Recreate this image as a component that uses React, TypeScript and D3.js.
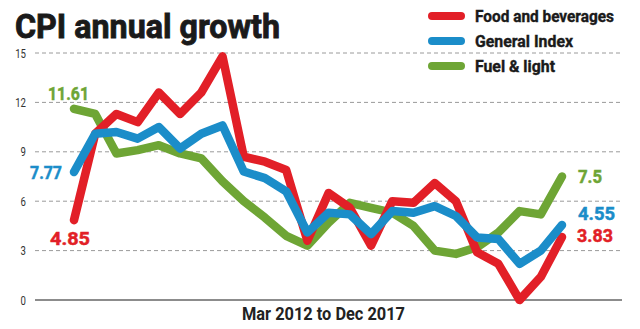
import React from "react";
import * as d3 from "d3";

const quarters = [
  "Mar 2012", "Jun 2012", "Sep 2012", "Dec 2012",
  "Mar 2013", "Jun 2013", "Sep 2013", "Dec 2013",
  "Mar 2014", "Jun 2014", "Sep 2014", "Dec 2014",
  "Mar 2015", "Jun 2015", "Sep 2015", "Dec 2015",
  "Mar 2016", "Jun 2016", "Sep 2016", "Dec 2016",
  "Mar 2017", "Jun 2017", "Sep 2017", "Dec 2017",
];

const foodValues = [
  4.85, 10.1, 11.3, 10.8, 12.6, 11.3, 12.6, 14.8, 8.7, 8.4, 7.9, 3.6,
  6.5, 5.6, 3.3, 6.0, 5.9, 7.1, 6.0, 2.9, 2.2, 0.0, 1.4, 3.83,
];
const generalValues = [
  7.77, 10.1, 10.2, 9.8, 10.5, 9.2, 10.1, 10.6, 7.8, 7.4, 6.6, 4.1,
  5.3, 5.2, 4.0, 5.4, 5.3, 5.7, 5.1, 3.8, 3.7, 2.2, 3.0, 4.55,
];
const fuelValues = [
  11.61, 11.3, 8.9, 9.1, 9.4, 8.9, 8.6, 7.2, 6.0, 5.0, 3.9, 3.3,
  4.7, 5.9, 5.6, 5.3, 4.5, 3.0, 2.8, 3.2, 4.1, 5.4, 5.2, 7.5,
];

const yTicks = [0, 3, 6, 9, 12, 15];
const seriesNames = ["Food and beverages", "General Index", "Fuel & light"];
const seriesColors = ["#e21f27", "#1b8dc9", "#6ea535"];
const titleText = "CPI annual growth";
const xAxisLabel = "Mar 2012 to Dec 2017";

const FONT = "Roboto, 'Open Sans', sans-serif";

export default function App() {
  const x = d3.scaleLinear().domain([0, quarters.length - 1]).range([74, 562]);
  const y = d3.scaleLinear().domain([0, 15]).range([300, 53]);
  const line = d3
    .line<number>()
    .x((_, i) => x(i))
    .y((d) => y(d));

  const series = [foodValues, generalValues, fuelValues];
  const drawOrder = [2, 0, 1];
  const legendWidths = [139, 98, 80];
  const last = quarters.length - 1;

  const valueLabel = (
    key: string,
    px: number,
    py: number,
    anchor: string,
    color: string,
    len: number,
    txt: number
  ) => (
    <text
      key={key}
      x={px}
      y={py}
      textAnchor={anchor}
      fontSize={18.5}
      fontWeight={700}
      fill={color}
      stroke={color}
      strokeWidth={0.5}
      textLength={len}
      lengthAdjust="spacingAndGlyphs"
    >
      {txt}
    </text>
  );

  return (
    <svg
      width={640}
      height={329}
      style={{ position: "absolute", left: 0, top: 0, background: "#fff" }}
      fontFamily={FONT}
    >
      <rect width={640} height={329} fill="#fff" />
      {/* gridlines */}
      {yTicks.map((t) =>
        t === 0 ? null : (
          <line
            key={"g" + t}
            x1={35}
            x2={622}
            y1={y(t)}
            y2={y(t)}
            stroke="#9a9a9a"
            strokeWidth={1}
            strokeDasharray="4 3"
          />
        )
      )}
      <line x1={35} x2={622} y1={y(0)} y2={y(0)} stroke="#666" strokeWidth={1.6} />
      {yTicks.map((t) => (
        <text
          key={"t" + t}
          x={26}
          y={y(t) + 4.5}
          textAnchor="end"
          fontSize={13}
          fill="#333"
          textLength={String(t).length * 5.4}
          lengthAdjust="spacingAndGlyphs"
        >
          {t}
        </text>
      ))}

      {/* title */}
      <text
        x={15}
        y={38}
        fontSize={34}
        fontWeight={700}
        fill="#1a1a1a"
        stroke="#1a1a1a"
        strokeWidth={0.9}
        textLength={265}
        lengthAdjust="spacingAndGlyphs"
      >
        {titleText}
      </text>

      {/* legend */}
      {seriesNames.map((name, i) => (
        <g key={name}>
          <line
            x1={432}
            x2={461}
            y1={16 + i * 25}
            y2={16 + i * 25}
            stroke={seriesColors[i]}
            strokeWidth={8}
            strokeLinecap="round"
          />
          <text
            x={475}
            y={22 + i * 25}
            fontSize={17}
            fontWeight={700}
            fill="#1a1a1a"
            stroke="#1a1a1a"
            strokeWidth={0.4}
            textLength={legendWidths[i]}
            lengthAdjust="spacingAndGlyphs"
          >
            {name}
          </text>
        </g>
      ))}

      {/* lines */}
      {drawOrder.map((si) => (
        <path
          key={"s" + si}
          d={line(series[si]) || ""}
          fill="none"
          stroke={seriesColors[si]}
          strokeWidth={8.5}
          strokeLinejoin="round"
          strokeLinecap="round"
        />
      ))}

      {/* start labels */}
      {valueLabel("l0", x(0) - 5.5, y(fuelValues[0]) - 9, "middle", seriesColors[2], 41, fuelValues[0])}
      {valueLabel("l1", x(0) - 12, y(generalValues[0]) + 7, "end", seriesColors[1], 32, generalValues[0])}
      {valueLabel("l2", x(0) - 4, y(foodValues[0]) + 25, "middle", seriesColors[0], 40, foodValues[0])}

      {/* end labels */}
      {valueLabel("r0", x(last) + 16, y(fuelValues[last]) + 6, "start", seriesColors[2], 24, fuelValues[last])}
      {valueLabel("r1", x(last) + 16, y(generalValues[last]) - 5, "start", seriesColors[1], 37, generalValues[last])}
      {valueLabel("r2", x(last) + 15, y(foodValues[last]) + 5, "start", seriesColors[0], 36, foodValues[last])}

      {/* x axis label */}
      <text
        x={242}
        y={320}
        fontSize={18}
        fontWeight={700}
        fill="#222"
        textLength={163}
        lengthAdjust="spacingAndGlyphs"
      >
        {xAxisLabel}
      </text>
    </svg>
  );
}
